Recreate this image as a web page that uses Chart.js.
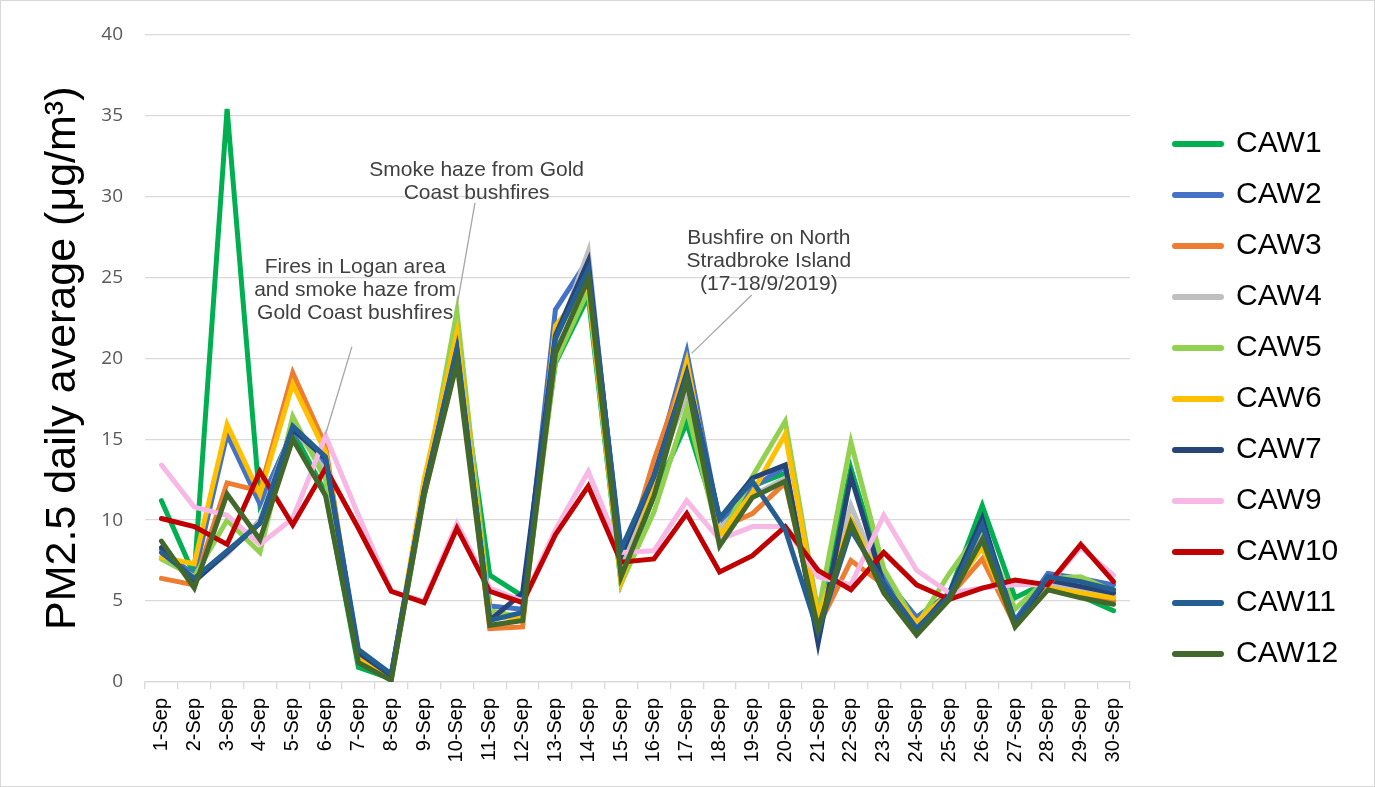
<!DOCTYPE html>
<html>
<head>
<meta charset="utf-8">
<script src="https://cdn.jsdelivr.net/npm/chart.js@4"></script>
<style>
  body { margin: 0; background: #fff; }
  #wrap { position: absolute; left: 0; top: 0; width: 1375px; height: 787px; box-sizing: border-box; border: 1px solid #d9d9d9; }
  canvas { display: block; }
</style>
</head>
<body>
<div id="wrap"><canvas id="pmChart" width="1373" height="785"></canvas></div>
<script>
// x categories
const days = [];
for (let d = 1; d <= 30; d++) days.push(d + "-Sep");

const yTicks = [0, 5, 10, 15, 20, 25, 30, 35, 40];

const names = ["CAW1", "CAW2", "CAW3", "CAW4", "CAW5", "CAW6", "CAW7", "CAW9", "CAW10", "CAW11", "CAW12"];
const colors = ["#00B050", "#4472C4", "#ED7D31", "#BFBFBF", "#92D050", "#FFC000", "#264478", "#F7B8E6", "#C00000", "#255E91", "#43682B"];

// daily averages
const caw1 = [11.2, 6.6, 35.4, 11.0, 15.5, 11.7, 0.9, 0.2, 11.5, 21.0, 6.6, 5.3, 19.7, 23.8, 6.1, 11.5, 16.0, 9.5, 12.1, 12.9, 3.5, 13.2, 6.5, 3.3, 5.5, 10.9, 5.2, 6.2, 5.3, 4.4];
const caw2 = [8.2, 6.6, 15.3, 11.0, 15.5, 13.5, 1.6, 0.4, 12.0, 20.5, 4.7, 4.5, 23.0, 26.1, 7.5, 13.0, 20.4, 9.8, 12.0, 13.3, 3.2, 10.0, 6.5, 4.0, 5.5, 9.3, 3.8, 6.7, 6.4, 6.0];
const caw3 = [6.4, 6.0, 12.3, 11.8, 19.1, 14.6, 1.3, 0.3, 12.0, 20.5, 3.3, 3.4, 21.5, 25.0, 6.8, 13.7, 19.5, 9.5, 10.4, 12.3, 3.4, 7.5, 6.0, 3.5, 5.3, 7.6, 3.5, 5.7, 5.5, 5.0];
const caw4 = [8.0, 6.3, 7.9, 10.0, 15.8, 13.0, 1.4, 0.3, 11.5, 20.0, 4.2, 4.0, 21.0, 26.6, 7.0, 12.5, 17.7, 9.5, 11.5, 12.6, 3.2, 10.9, 6.0, 3.3, 5.3, 9.0, 3.6, 6.0, 5.8, 5.3];
const caw5 = [7.6, 6.5, 10.0, 8.0, 16.4, 12.5, 1.3, 0.3, 11.8, 22.9, 4.4, 4.0, 19.8, 24.2, 6.1, 10.5, 16.9, 8.8, 12.7, 16.1, 4.3, 14.8, 7.0, 3.5, 6.7, 9.5, 4.5, 6.4, 6.5, 5.6];
const caw6 = [7.7, 7.3, 15.9, 11.6, 18.4, 14.2, 1.5, 0.3, 12.5, 21.6, 4.0, 4.0, 22.0, 24.5, 6.2, 12.0, 19.8, 9.0, 11.7, 15.3, 4.0, 10.0, 6.0, 3.7, 5.5, 8.3, 3.6, 5.8, 5.5, 5.2];
const caw7 = [8.3, 6.2, 8.0, 9.8, 15.6, 13.8, 1.8, 0.4, 11.8, 20.5, 3.8, 5.5, 21.4, 26.0, 7.8, 12.7, 19.1, 10.1, 12.6, 13.4, 2.4, 12.7, 6.0, 3.2, 5.5, 10.1, 3.6, 6.3, 5.9, 5.5];
const caw9 = [13.4, 10.8, 10.3, 8.5, 10.1, 15.2, 10.3, 5.6, 5.0, 9.8, 5.8, 5.0, 9.4, 13.0, 8.0, 8.1, 11.2, 8.8, 9.6, 9.6, 6.5, 6.0, 10.3, 6.9, 5.5, 5.8, 6.0, 6.0, 8.3, 6.6];
const caw10 = [10.1, 9.6, 8.5, 13.0, 9.7, 13.2, 9.5, 5.6, 4.9, 9.5, 5.6, 4.9, 9.1, 12.1, 7.4, 7.6, 10.4, 6.8, 7.8, 9.6, 6.9, 5.7, 8.0, 6.0, 5.1, 5.8, 6.3, 6.0, 8.5, 6.2];
const caw11 = [8.0, 6.4, 8.1, 9.8, 15.8, 13.9, 2.0, 0.5, 11.8, 20.6, 3.8, 4.3, 21.2, 25.5, 8.2, 12.7, 18.9, 10.1, 12.4, 9.4, 3.1, 9.4, 6.1, 3.3, 5.3, 9.7, 3.7, 6.5, 6.2, 5.7];
const caw12 = [8.7, 5.8, 11.6, 8.8, 15.0, 11.5, 1.2, 0.1, 11.5, 19.7, 3.5, 3.8, 20.3, 24.9, 6.5, 11.5, 18.6, 8.4, 11.4, 12.4, 3.3, 9.8, 5.5, 2.9, 5.1, 8.8, 3.4, 5.7, 5.2, 4.8];
const series = [caw1, caw2, caw3, caw4, caw5, caw6, caw7, caw9, caw10, caw11, caw12];

// callouts: text anchor (category index, value) and leader line end
const notes = [
  { text: ["Fires in Logan area", "and smoke haze from", "Gold Coast bushfires"], at: [5.9, 25.6], from: [5.8, 20.7], to: [5.0, 15.3] },
  { text: ["Smoke haze from Gold", "Coast bushfires"], at: [9.6, 31.6], from: [9.55, 29.6], to: [9.0, 23.2] },
  { text: ["Bushfire on North", "Stradbroke Island", "(17-18/9/2019)"], at: [18.5, 27.4], from: [17.98, 23.9], to: [16.15, 20.3] }
];

const calloutPlugin = {
  id: "callouts",
  afterDatasetsDraw(chart) {
    const { ctx, scales: { x, y } } = chart;
    ctx.save();
    ctx.strokeStyle = "#a6a6a6";
    ctx.lineWidth = 1.3;
    ctx.fillStyle = "#404040";
    ctx.font = "21px 'Liberation Sans', Arial, sans-serif";
    ctx.textAlign = "center";
    ctx.textBaseline = "middle";
    notes.forEach(n => {
      ctx.beginPath();
      ctx.moveTo(x.getPixelForValue(n.from[0]), y.getPixelForValue(n.from[1]));
      ctx.lineTo(x.getPixelForValue(n.to[0]), y.getPixelForValue(n.to[1]));
      ctx.stroke();
      const cx = x.getPixelForValue(n.at[0]);
      const cy = y.getPixelForValue(n.at[1]);
      n.text.forEach((t, i) => ctx.fillText(t, cx, cy + i * 23));
    });
    ctx.restore();
  }
};

// legend: fixed width box, items pushed right of the plot
const legendPlace = {
  id: "legendPlace",
  beforeLayout(chart) {
    const lg = chart.legend;
    if (lg && !lg._patched) {
      const fit = lg.fit;
      lg.fit = function () { fit.call(this); this.width = 244; };
      lg._patched = true;
    }
  },
  afterLayout(chart) {
    chart.legend.left += 24;
    chart.legend.top -= 6;
    chart.legend.bottom -= 6;
  }
};

new Chart(document.getElementById("pmChart"), {
  type: "line",
  data: {
    labels: days,
    datasets: names.map((name, i) => ({
      label: name,
      data: series[i],
      borderColor: colors[i],
      backgroundColor: colors[i],
      borderWidth: 5,
      borderCapStyle: "round",
      pointRadius: 0,
      tension: 0,
      order: names.length - i
    }))
  },
  options: {
    responsive: false,
    animation: false,
    layout: { padding: { top: 23, left: 8, right: 0, bottom: 0 } },
    plugins: {
      tooltip: { enabled: false },
      legend: {
        position: "right",
        labels: {
          usePointStyle: true,
          pointStyle: "line",
          pointStyleWidth: 46,
          color: "#000",
          font: { family: "'Liberation Sans', Arial, sans-serif", size: 30 },
          padding: 21,
          generateLabels: chart => Chart.defaults.plugins.legend.labels.generateLabels(chart)
            .map(l => ({ ...l, lineWidth: 6, lineCap: "round" })),
          sort: (a, b) => a.datasetIndex - b.datasetIndex
        }
      }
    },
    scales: {
      x: {
        offset: true,
        afterFit: s => { s.height = 104; },
        grid: { offset: true, drawOnChartArea: false, drawTicks: true, tickLength: 7, color: "#d9d9d9", lineWidth: 1.3 },
        border: { color: "#d9d9d9", width: 1.3 },
        ticks: {
          minRotation: 90,
          maxRotation: 90,
          autoSkip: false,
          padding: 9,
          color: "#000",
          font: { family: "'Liberation Sans', Arial, sans-serif", size: 20 }
        }
      },
      y: {
        min: 0,
        max: 40,
        afterBuildTicks: s => { s.ticks = yTicks.map(v => ({ value: v })); },
        afterFit: s => { s.width = 136; },
        grid: { color: "#d9d9d9", lineWidth: 1.3, drawTicks: false },
        border: { display: false },
        ticks: {
          padding: 22,
          color: "#595959",
          font: { family: "'Open Sans', sans-serif", size: 19 }
        },
        title: {
          display: true,
          text: "PM2.5 daily average (μg/m³)",
          color: "#000",
          font: { family: "'Liberation Sans', Arial, sans-serif", size: 43 },
          padding: { top: 28, bottom: 0 }
        }
      }
    }
  },
  plugins: [calloutPlugin, legendPlace]
});
</script>
</body>
</html>
